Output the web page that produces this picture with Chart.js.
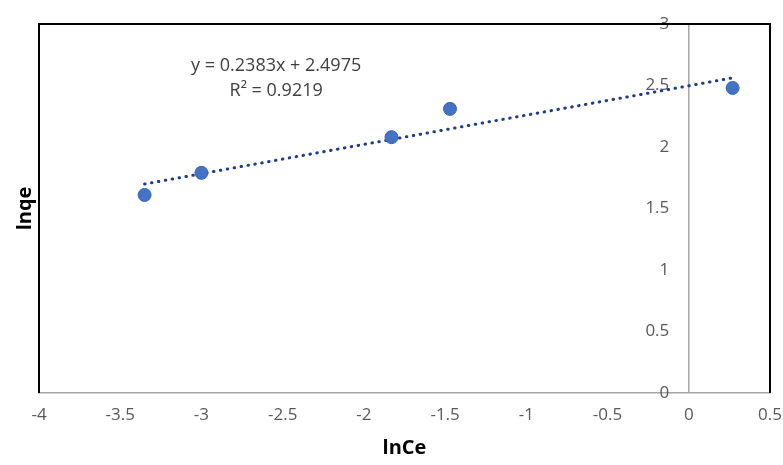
<!DOCTYPE html>
<html>
<head>
<meta charset="utf-8">
<script src="https://cdn.jsdelivr.net/npm/chart.js@4"></script>
<style>
  html, body { margin: 0; padding: 0; background: #fff; }
  #wrap { width: 783px; height: 465px; }
</style>
</head>
<body>
<div id="wrap"><canvas id="chart" width="783" height="465"></canvas></div>
<script>
// data
const lnCe = [-3.35, -3.0, -1.83, -1.47, 0.27];
const lnqe = [1.61, 1.79, 2.08, 2.31, 2.48];
const xTicks = [-4, -3.5, -3, -2.5, -2, -1.5, -1, -0.5, 0, 0.5];
const yTicks = [0, 0.5, 1, 1.5, 2, 2.5, 3];
const slope = 0.2383;
const intercept = 2.4975;
const eqLines = ['y = 0.2383x + 2.4975', 'R² = 0.9219'];

const points = lnCe.map((x, i) => ({x: x, y: lnqe[i]}));
const xMin = Math.min(...lnCe), xMax = Math.max(...lnCe);
const trend = [xMin, xMax].map(x => ({x: x, y: slope * x + intercept}));

const FONT = "'Open Sans', sans-serif";

const decor = {
    id: 'decor',
    afterDraw(chart) {
        const ctx = chart.ctx;
        const a = chart.chartArea;
        ctx.save();
        // black frame round the plot area (left, top, right)
        ctx.strokeStyle = '#000';
        ctx.lineWidth = 2;
        ctx.beginPath();
        ctx.moveTo(a.left, a.bottom);
        ctx.lineTo(a.left, a.top);
        ctx.lineTo(a.right, a.top);
        ctx.lineTo(a.right, a.bottom);
        ctx.stroke();

        // trendline label
        const xs = chart.scales.x, ys = chart.scales.y;
        ctx.fillStyle = '#404040';
        ctx.font = '18px ' + FONT;
        ctx.textAlign = 'center';
        ctx.textBaseline = 'middle';
        const cx = xs.getPixelForValue(-2.54);
        ctx.fillText(eqLines[0], cx, ys.getPixelForValue(2.66));
        ctx.fillText(eqLines[1], cx, ys.getPixelForValue(2.46));

        // y axis title
        ctx.fillStyle = '#000';
        ctx.font = 'bold 20px ' + FONT;
        ctx.translate(25, (a.top + a.bottom) / 2);
        ctx.rotate(-Math.PI / 2);
        ctx.fillText('lnqe', 0, 0);
        ctx.restore();
    }
};

const plain = v => String(v);

new Chart(document.getElementById('chart').getContext('2d'), {
    type: 'scatter',
    data: {
        datasets: [{
            label: 'lnqe',
            data: points,
            backgroundColor: '#4472C4',
            borderColor: '#3A63AE',
            borderWidth: 1,
            pointRadius: 6.5,
            order: 1
        }, {
            type: 'line',
            label: 'trend',
            data: trend,
            borderColor: '#1F3C88',
            borderWidth: 3,
            borderCapStyle: 'round',
            borderDash: [0.5, 6.5],
            pointRadius: 0,
            fill: false,
            order: 2
        }]
    },
    options: {
        responsive: false,
        animation: false,
        layout: { padding: { left: 39, right: 13, top: 24, bottom: 0 } },
        plugins: { legend: { display: false }, tooltip: { enabled: false } },
        scales: {
            x: {
                type: 'linear',
                position: 'bottom',
                min: -4, max: 0.5,
                afterBuildTicks: s => { s.ticks = xTicks.map(v => ({value: v})); },
                afterFit: s => { s.height = 72; s.paddingLeft = 0; s.paddingRight = 0; },
                // only the x = 0 line is shown, as the vertical axis
                grid: {
                    display: true, drawTicks: false, lineWidth: 1.5,
                    color: c => (c.tick && c.tick.value === 0) ? '#a6a6a6' : 'rgba(0,0,0,0)'
                },
                border: { display: true, color: '#a6a6a6', width: 1.5 },
                ticks: { padding: 12, color: '#595959', font: { family: FONT, size: 17 }, callback: plain },
                title: {
                    display: true, text: 'lnCe', color: '#000',
                    font: { family: FONT, size: 20, weight: 'bold' },
                    padding: { top: 4, bottom: 5 }
                }
            },
            y: {
                type: 'linear',
                position: { x: -0.12 },
                min: 0, max: 3,
                afterBuildTicks: s => { s.ticks = yTicks.map(v => ({value: v})); },
                afterFit: s => { s.paddingTop = 0; s.paddingBottom = 0; },
                grid: { display: false, drawTicks: false },
                border: { display: false },
                ticks: { color: '#595959', font: { family: FONT, size: 17 }, callback: plain }
            }
        }
    },
    plugins: [decor]
});
</script>
</body>
</html>
